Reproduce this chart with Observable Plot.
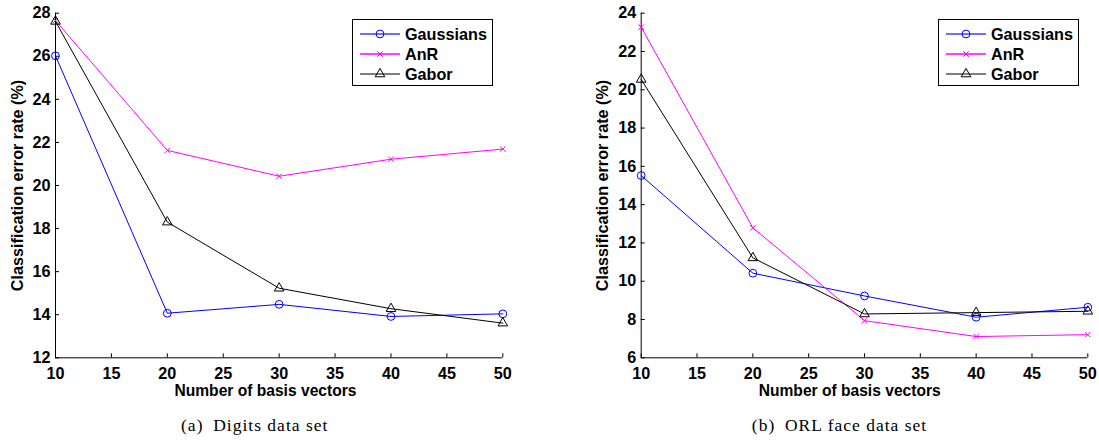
<!DOCTYPE html>
<html>
<head>
<meta charset="utf-8">
<script src="https://cdn.jsdelivr.net/npm/d3@7"></script>
<script src="https://cdn.jsdelivr.net/npm/@observablehq/plot@0.6"></script>
<style>
  body { margin: 0; background: #fff; }
  #wrap { position: relative; width: 1099px; height: 443px; overflow: hidden; background: #fff; }
  .panel { position: absolute; top: 0; }
  .legend { position: absolute; box-sizing: border-box; border: 1px solid #000; background: #fff;
            font-family: "Liberation Sans", Arial, sans-serif; font-weight: bold; font-size: 16.2px; }
  .legend .row { position: absolute; left: 0; height: 20px; width: 100%; }
  .legend svg { position: absolute; left: 6px; top: 0; }
  .legend span { position: absolute; left: 52px; top: 0; line-height: 20px; color: #000; }
  .caption { position: absolute; width: 400px; text-align: center; font-family: "Liberation Serif", "Times New Roman", serif;
             font-size: 17.5px; line-height: 22px; color: #000; letter-spacing: 1px; }
</style>
</head>
<body>
<div id="wrap"></div>
<script>
// ---- data ----
const xValues = [10, 20, 30, 40, 50];
const xTicks = [10, 15, 20, 25, 30, 35, 40, 45, 50];
const seriesNames = ["Gaussians", "AnR", "Gabor"];
const seriesColors = ["#0000ff", "#ff00ff", "#000000"];
const legendLineColors = ["#4040ff", "#ff00ff", "#555555"];
const seriesSymbols = ["circle", "times", "triangle2"];

const digitsGaussians = [26.02, 14.07, 14.48, 13.92, 14.04];
const digitsAnR       = [27.66, 21.63, 20.43, 21.22, 21.69];
const digitsGabor     = [27.62, 18.30, 15.23, 14.28, 13.61];
const digitsYTicks    = [12, 14, 16, 18, 20, 22, 24, 26, 28];

const orlGaussians = [15.52, 10.42, 9.23, 8.12, 8.64];
const orlAnR       = [23.27, 12.79, 7.94, 7.11, 7.21];
const orlGabor     = [20.54, 11.22, 8.29, 8.36, 8.43];
const orlYTicks    = [6, 8, 10, 12, 14, 16, 18, 20, 22, 24];

const xLabel = "Number of basis vectors";
const yLabel = "Classification error rate (%)";
const captions = ["(a)\u2002Digits data set", "(b)\u2002ORL face data set"];

// ---- build ----
function rowsFrom(seriesArrays) {
  const rows = [];
  seriesArrays.forEach((vals, si) => {
    vals.forEach((v, i) => rows.push({series: seriesNames[si], x: xValues[i], y: v}));
  });
  return rows;
}

const symbolR = {circle: 3.9, times: 2.6, triangle2: 4.6};

function makeChart({seriesArrays, yTicks, width, marginLeft, marginRight, xLabelDx}) {
  const rows = rowsFrom(seriesArrays);
  const yDomain = [yTicks[0], yTicks[yTicks.length - 1]];
  const xDomain = [xTicks[0], xTicks[xTicks.length - 1]];
  const marks = [
    Plot.ruleY([yDomain[0]], {stroke: "#000", strokeWidth: 1}),
    Plot.ruleX([xDomain[0]], {stroke: "#000", strokeWidth: 1}),
    Plot.axisX({ticks: xTicks, tickSize: -4, tickPadding: 14, tickFormat: d => d, label: null}),
    Plot.axisY({ticks: yTicks, tickSize: -4, tickPadding: 9, tickFormat: d => d, label: null}),
  ];
  seriesNames.forEach((name, si) => {
    const data = rows.filter(d => d.series === name);
    marks.push(Plot.line(data, {x: "x", y: "y", stroke: seriesColors[si], strokeWidth: 1}));
    marks.push(Plot.dot(data, {x: "x", y: "y", stroke: seriesColors[si], fill: "none", strokeWidth: 1,
                               symbol: seriesSymbols[si], r: symbolR[seriesSymbols[si]]}));
  });
  marks.push(Plot.text([xLabel], {text: d => d, frameAnchor: "bottom", dx: xLabelDx, dy: 32.9,
                                   lineAnchor: "middle", textAnchor: "middle", fontSize: 15.6}));
  marks.push(Plot.text([yLabel], {text: d => d, frameAnchor: "left", rotate: -90, dx: marginLeft === 55 ? -37.5 : -38, dy: 0,
                                   lineAnchor: "middle", textAnchor: "middle"}));
  return Plot.plot({
    width, height: 400,
    marginLeft, marginRight, marginTop: 12.7, marginBottom: 42.7,
    x: {domain: xDomain},
    y: {domain: yDomain},
    style: {fontFamily: "'Liberation Sans', Arial, sans-serif", fontSize: "16.2px", fontWeight: "bold", color: "#000", background: "#fff", overflow: "visible"},
    marks
  });
}

function makeLegend(left) {
  const box = document.createElement("div");
  box.className = "legend";
  Object.assign(box.style, {left: left + "px", top: "19px", width: "141px", height: "67px"});
  const rowTops = [3.7, 24.3, 44.3];
  seriesNames.forEach((name, si) => {
    const row = document.createElement("div");
    row.className = "row";
    row.style.top = rowTops[si] + "px";
    const svg = d3.create("svg").attr("width", 42).attr("height", 20);
    svg.append("line").attr("x1", 1).attr("x2", 41).attr("y1", 10).attr("y2", 10)
      .attr("stroke", legendLineColors[si]).attr("stroke-width", 1.3);
    const sym = d3.symbol(
      seriesSymbols[si] === "circle" ? d3.symbolCircle : seriesSymbols[si] === "times" ? d3.symbolTimes : d3.symbolTriangle2,
      Math.PI * symbolR[seriesSymbols[si]] ** 2);
    svg.append("path").attr("d", sym()).attr("transform", "translate(21,10)")
      .attr("fill", "none").attr("stroke", seriesColors[si]).attr("stroke-width", 1);
    row.appendChild(svg.node());
    const span = document.createElement("span");
    span.textContent = name;
    row.appendChild(span);
    box.appendChild(row);
  });
  return box;
}

const wrap = document.getElementById("wrap");

const left = makeChart({seriesArrays: [digitsGaussians, digitsAnR, digitsGabor], yTicks: digitsYTicks,
                        width: 550, marginLeft: 55, marginRight: 47.7, xLabelDx: -13.7});
left.classList.add("panel"); left.style.left = "0px";
wrap.appendChild(left);

const right = makeChart({seriesArrays: [orlGaussians, orlAnR, orlGabor], yTicks: orlYTicks,
                         width: 549, marginLeft: 90.7, marginRight: 11.7, xLabelDx: -14.8});
right.classList.add("panel"); right.style.left = "550px";
wrap.appendChild(right);

wrap.appendChild(makeLegend(352));
wrap.appendChild(makeLegend(938));

[[254.7, captions[0]], [839.5, captions[1]]].forEach(([cx, text]) => {
  const c = document.createElement("div");
  c.className = "caption";
  c.textContent = text;
  Object.assign(c.style, {left: (cx - 200) + "px", top: (425 - 11) + "px"});
  wrap.appendChild(c);
});
</script>
</body>
</html>
